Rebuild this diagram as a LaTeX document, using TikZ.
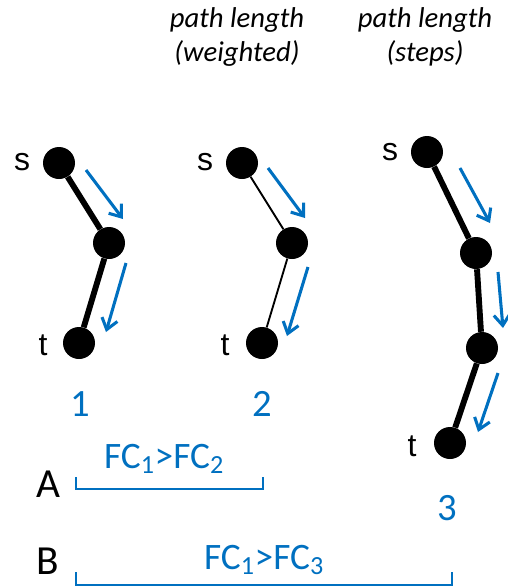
\documentclass[tikz,border=0pt]{standalone}
\usepackage{fontspec}
\setmainfont{Carlito}
\newfontfamily\arialf{Liberation Sans}
\usetikzlibrary{arrows.meta}
\definecolor{oblue}{RGB}{0,112,192}
\begin{document}
\begin{tikzpicture}[x=0.75pt,y=-0.75pt,
  vtx/.style={circle,fill=black,inner sep=0pt,minimum size=24pt},
  thickedge/.style={line width=4.4pt},
  thinedge/.style={line width=1.4pt},
  flow/.style={oblue,line width=2.3pt,-{Straight Barb[length=8pt,width=12pt,line width=2.3pt]}},
  lbl/.style={font=\arialf\fontsize{24}{26}\selectfont,inner sep=0pt},
  num/.style={text=oblue,font=\fontsize{29}{30}\selectfont,inner sep=0pt},
  letter/.style={font=\fontsize{31}{33}\selectfont,inner sep=0pt,text depth=0pt,anchor=base},
  fc/.style={text=oblue,font=\fontsize{28}{30}\selectfont,inner sep=0pt},
  bracket/.style={oblue,line width=1.3pt},
  head/.style={font=\itshape\fontsize{21.5}{25}\selectfont,align=center,inner sep=0pt}]
\useasboundingbox (0,0) rectangle (508,587);
% headers
\node[head] (h1) at (237,37) {path length\\(weighted)};
\node[head] (h2) at (425,37) {path length\\(steps)};
% graph 1
\node[vtx] (s1) at (59,163) {};
\node[vtx] (m1) at (109,243) {};
\node[vtx] (t1) at (79,343) {};
\node[lbl] (ls1) at (22,162) {s};
\node[lbl] (lt1) at (43,345) {t};
\draw[thickedge] (s1) -- (m1);
\draw[thickedge] (m1) -- (t1);
\coordinate (a1s) at (86,170); \coordinate (a1e) at (123,219);
\coordinate (b1s) at (126,263); \coordinate (b1e) at (106,332);
\draw[flow] (a1s) -- (a1e);
\draw[flow] (b1s) -- (b1e);
% graph 2
\node[vtx] (s2) at (242,163) {};
\node[vtx] (m2) at (292,243) {};
\node[vtx] (t2) at (262,343) {};
\node[lbl] (ls2) at (205,162) {s};
\node[lbl] (lt2) at (225,345) {t};
\draw[thinedge] (s2) -- (m2);
\draw[thinedge] (m2) -- (t2);
\coordinate (a2s) at (268,168); \coordinate (a2e) at (305,218);
\coordinate (b2s) at (308,267); \coordinate (b2e) at (287,336);
\draw[flow] (a2s) -- (a2e);
\draw[flow] (b2s) -- (b2e);
% graph 3
\node[vtx] (s3) at (427,152) {};
\node[vtx] (m3) at (476,253) {};
\node[vtx] (n3) at (482,348) {};
\node[vtx] (t3) at (450,443) {};
\node[lbl] (ls3) at (390,152) {s};
\node[lbl] (lt3) at (412,446) {t};
\draw[thickedge] (s3) -- (m3);
\draw[thickedge] (m3) -- (n3);
\draw[thickedge] (n3) -- (t3);
\coordinate (a3s) at (460,168); \coordinate (a3e) at (490,223);
\coordinate (b3s) at (498,272); \coordinate (b3e) at (503,328);
\coordinate (c3s) at (498,373); \coordinate (c3e) at (478,432);
\draw[flow] (a3s) -- (a3e);
\draw[flow] (b3s) -- (b3e);
\draw[flow] (c3s) -- (c3e);
% numbers
\node[num] (n1) at (80,404) {1};
\node[num] (n2) at (262,404) {2};
\node[num] (n3l) at (447,508) {3};
% A / B
\node[letter] (A) at (48,497) {A};
\node[letter] (B) at (48,574) {B};
\coordinate (Aa) at (76,477); \coordinate (Ab) at (76,489);
\coordinate (Ac) at (263,489); \coordinate (Ad) at (263,477);
\draw[bracket] (Aa) -- (Ab) -- (Ac) -- (Ad);
\node[fc] (fa) at (164,459) {FC\textsubscript{1}>FC\textsubscript{2}};
\coordinate (Ba) at (76,572); \coordinate (Bb) at (76,585);
\coordinate (Bc) at (452,585); \coordinate (Bd) at (452,572);
\draw[bracket] (Ba) -- (Bb) -- (Bc) -- (Bd);
\node[fc] (fb) at (264,560) {FC\textsubscript{1}>FC\textsubscript{3}};
\end{tikzpicture}
\end{document}
